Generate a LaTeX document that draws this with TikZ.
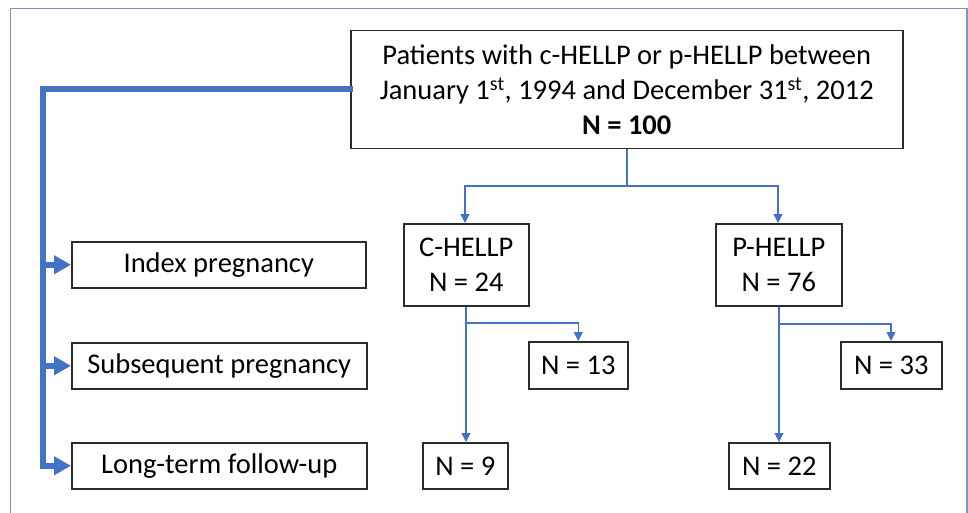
\documentclass[tikz,border=0pt]{standalone}
\usepackage{fontspec}
\setmainfont{Carlito}
\usetikzlibrary{arrows.meta}
\definecolor{offblue}{HTML}{4472C4}
\definecolor{framecol}{HTML}{7F93C4}
\definecolor{boxline}{HTML}{2B2B2B}
\tikzset{
  box/.style={draw=boxline, line width=1.5pt, inner sep=0pt, anchor=north west,
    font=\fontsize{28.5pt}{35pt}\selectfont, align=center},
  thin/.style={draw=offblue, line width=1.1pt, -{Triangle[length=9pt,width=9pt]}},
  thinplain/.style={draw=offblue, line width=1.1pt},
  thick/.style={draw=offblue, line width=6pt},
  thickarrow/.style={draw=offblue, line width=6pt, -{Triangle[length=17pt,width=18pt]}},
}
\begin{document}
\begin{tikzpicture}[x=1pt,y=-1pt]
\useasboundingbox (0,0) rectangle (968,513);
\clip (0,0) rectangle (968,513);
% outer frame
\draw[framecol, line width=1.2pt] (10.5,8.5) rectangle (967,540);
% boxes
\node[box, minimum width=552pt, minimum height=118pt] (top) at (350,30)
  {Patients with c-HELLP or p-HELLP between\\
   January 1\textsuperscript{st}, 1994 and December 31\textsuperscript{st}, 2012\\
   \textbf{N = 100}};
\node[box, minimum width=294pt, minimum height=46pt] (index) at (71,241) {Index pregnancy};
\node[box, minimum width=295pt, minimum height=46pt] (subs) at (71,342) {Subsequent pregnancy};
\node[box, minimum width=295pt, minimum height=46pt] (long) at (71,442) {Long-term follow-up};
\node[box, minimum width=125pt, minimum height=82pt] (ch) at (403,223) {C-HELLP\\N = 24};
\node[box, minimum width=126pt, minimum height=82pt] (ph) at (715,223) {P-HELLP\\N = 76};
\node[box, minimum width=99pt, minimum height=47pt] (n13) at (528,341) {N = 13};
\node[box, minimum width=101pt, minimum height=47pt] (n33) at (840,341) {N = 33};
\node[box, minimum width=85pt, minimum height=46pt] (n9) at (422,442) {N = 9};
\node[box, minimum width=101pt, minimum height=46pt] (n22) at (728,442) {N = 22};
% coordinates
\coordinate (split) at (627,186);
\coordinate (cbr) at (466,323);
\coordinate (pbr) at (779,324);
\coordinate (lt) at (43,89);
% top split
\draw[thinplain] (top.south -| split) -- (split);
\draw[thin] (split) -| (ch.north -| 465,0);
\draw[thin] (split) -| (ph.north -| 778,0);
% C branch
\draw[thin] (ch.south -| cbr) -- (n9.north -| cbr);
\draw[thin] (cbr) -| (n13.north);
% P branch
\draw[thin] (ph.south -| pbr) -- (n22.north -| pbr);
\draw[thin] (pbr) -| (n33.north -| 891,0);
% thick left bracket
\draw[thick, line cap=rect] (top.west |- lt) -- (lt) -- (lt |- long.west);
\draw[thickarrow] (lt |- index.west) -- (index.west);
\draw[thickarrow] (lt |- subs.west) -- (subs.west);
\draw[thickarrow] (lt |- long.west) -- (long.west);
\end{tikzpicture}
\end{document}
